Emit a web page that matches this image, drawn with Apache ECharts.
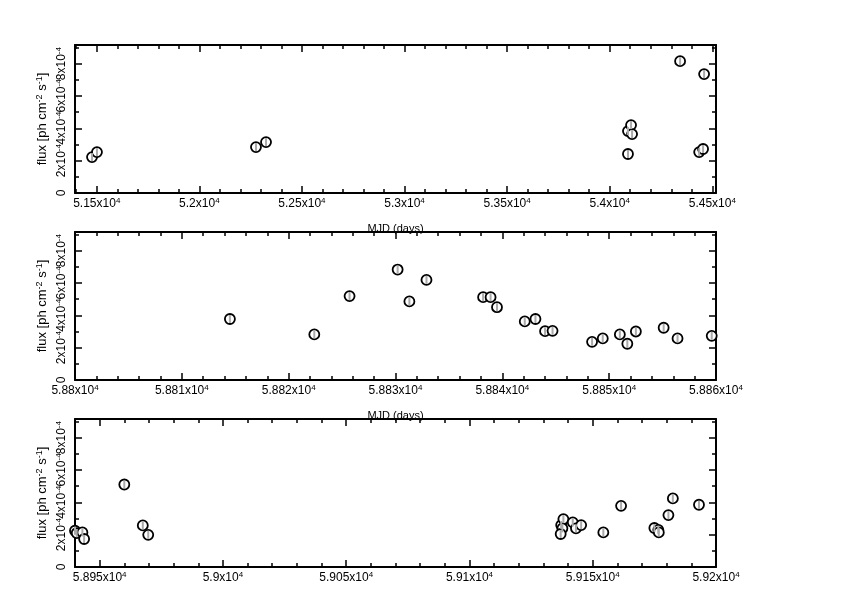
<!DOCTYPE html>
<html><head><meta charset="utf-8">
<script src="https://cdn.jsdelivr.net/npm/echarts@6/dist/echarts.min.js"></script>
<style>html,body{margin:0;padding:0;background:#fff}#c{width:842px;height:595px}</style>
</head><body><div id="c"></div><script>
// ---- data ----
const mjd1  = [51477, 51501, 52276, 52325, 54089, 54089, 54104, 54109, 54343, 54460, 54436, 54455];
const flux1 = [2.22e-4, 2.53e-4, 2.84e-4, 3.15e-4, 2.41e-4, 3.83e-4, 4.20e-4, 3.64e-4, 8.15e-4, 7.35e-4, 2.53e-4, 2.72e-4];

const mjd2  = [58814.5, 58822.4, 58825.7, 58830.2, 58831.3, 58832.9, 58838.2, 58838.9, 58839.5, 58842.1, 58843.1, 58844.0, 58844.7, 58848.4, 58849.4, 58851.0, 58851.7, 58852.5, 58855.1, 58856.4, 58859.6];
const flux2 = [3.77e-4, 2.82e-4, 5.19e-4, 6.83e-4, 4.86e-4, 6.19e-4, 5.12e-4, 5.12e-4, 4.50e-4, 3.62e-4, 3.77e-4, 3.02e-4, 3.04e-4, 2.36e-4, 2.57e-4, 2.82e-4, 2.24e-4, 3.00e-4, 3.23e-4, 2.57e-4, 2.73e-4];

const mjd3  = [58940.0, 58940.7, 58943.0, 58943.7, 58960.0, 58967.5, 58969.7, 59137.2, 59138.1, 59137.7, 59137.0, 59141.9, 59143.2, 59145.3, 59154.3, 59161.5, 59175.0, 59176.6, 59176.8, 59180.7, 59182.5, 59193.1];
const flux3 = [2.24e-4, 2.10e-4, 2.14e-4, 1.73e-4, 5.10e-4, 2.57e-4, 1.99e-4, 2.59e-4, 2.96e-4, 2.39e-4, 2.04e-4, 2.76e-4, 2.39e-4, 2.59e-4, 2.14e-4, 3.78e-4, 2.41e-4, 2.30e-4, 2.14e-4, 3.21e-4, 4.24e-4, 3.85e-4];

const xRange1 = [51394, 54518];
const xRange2 = [58800, 58860];
const xRange3 = [58940, 59200];
const xTicks1 = [51500, 52000, 52500, 53000, 53500, 54000, 54500];
const xTickLabels1 = ['5.15', '5.2', '5.25', '5.3', '5.35', '5.4', '5.45'];
const xTicks2 = [58800, 58810, 58820, 58830, 58840, 58850, 58860];
const xTickLabels2 = ['5.88', '5.881', '5.882', '5.883', '5.884', '5.885', '5.886'];
const xTicks3 = [58950, 59000, 59050, 59100, 59150, 59200];
const xTickLabels3 = ['5.895', '5.9', '5.905', '5.91', '5.915', '5.92'];
const xMinorStep = [100, 2, 10];

const yRange = [0, 9.15e-4];
const yTicks = [0, 2e-4, 4e-4, 6e-4, 8e-4];
const yTickLabels = ['0', '2', '4', '6', '8'];
const yMinor = [1e-4, 3e-4, 5e-4, 7e-4, 9e-4];

const xAxisTitle = 'MJD (days)';
const yAxisTitle = '{t|flux [ph cm}{ts|-2}{t| s}{ts|-1}{t|]}';

// ---- build ----
const panels = [
  {mjd: mjd1, flux: flux1, range: xRange1, ticks: xTicks1, labels: xTickLabels1, step: xMinorStep[0], title: xAxisTitle},
  {mjd: mjd2, flux: flux2, range: xRange2, ticks: xTicks2, labels: xTickLabels2, step: xMinorStep[1], title: xAxisTitle},
  {mjd: mjd3, flux: flux3, range: xRange3, ticks: xTicks3, labels: xTickLabels3, step: xMinorStep[2], title: ''}
];
const tops = [45, 232, 419];
const H = 148;
const FONT = 'Liberation Sans, Arial, sans-serif';
const rich = {
  b: {fontSize: 12, fontFamily: FONT, color: '#000', lineHeight: 14},
  s: {fontSize: 8, fontFamily: FONT, color: '#000', verticalAlign: 'top', lineHeight: 8, padding: [0, 0, 6, 0]},
  t: {fontSize: 13, fontFamily: FONT, color: '#000', lineHeight: 15},
  ts: {fontSize: 9, fontFamily: FONT, color: '#000', verticalAlign: 'top', lineHeight: 9, padding: [0, 0, 6, 0]}
};
const yFmt = v => { const k = yTicks.indexOf(v); if (k === 0) return '{b|0}'; return '{b|' + yTickLabels[k] + 'x10}{s|-4}'; };

const grid = [], xAxis = [], yAxis = [], series = [];
panels.forEach((p, i) => {
  grid.push({left: 75, width: 641, top: tops[i], height: H, containLabel: false});
  const minor = [];
  for (let v = Math.ceil(p.range[0] / p.step) * p.step; v <= p.range[1]; v += p.step) minor.push(v);
  const base = {type: 'value', gridIndex: i, min: p.range[0], max: p.range[1], splitLine: {show: false}};
  const xi = xAxis.length;
  xAxis.push(Object.assign({}, base, {
    position: 'bottom',
    name: p.title, nameLocation: 'middle', nameGap: 30, nameMoveOverlap: false,
    nameTextStyle: {fontSize: 11, fontFamily: FONT, color: '#000'},
    axisLine: {show: true, onZero: false, lineStyle: {color: '#000', width: 2}},
    axisTick: {show: true, inside: true, length: 7, customValues: p.ticks, lineStyle: {color: '#000', width: 1.5}},
    axisLabel: {show: true, margin: 4, interval: 0, hideOverlap: false, showMinLabel: true, showMaxLabel: true, customValues: p.ticks,
      formatter: v => { const k = p.ticks.indexOf(v); return '{b|' + (k >= 0 ? p.labels[k] : '') + 'x10}{s|4}'; },
      rich: rich}
  }));
  xAxis.push(Object.assign({}, base, {position: 'bottom', axisLine: {show: false, onZero: false},
    axisTick: {show: true, inside: true, length: 4, customValues: minor, lineStyle: {color: '#000', width: 1.5}},
    axisLabel: {show: false}}));
  xAxis.push(Object.assign({}, base, {position: 'top', axisLine: {show: true, onZero: false, lineStyle: {color: '#000', width: 2}},
    axisTick: {show: true, inside: true, length: 7, customValues: p.ticks, lineStyle: {color: '#000', width: 1.5}},
    axisLabel: {show: false}}));
  xAxis.push(Object.assign({}, base, {position: 'top', axisLine: {show: false, onZero: false},
    axisTick: {show: true, inside: true, length: 4, customValues: minor, lineStyle: {color: '#000', width: 1.5}},
    axisLabel: {show: false}}));

  const ybase = {type: 'value', gridIndex: i, min: yRange[0], max: yRange[1], splitLine: {show: false}};
  const yi = yAxis.length;
  yAxis.push(Object.assign({}, ybase, {
    position: 'left',
    name: yAxisTitle, nameLocation: 'middle', nameGap: 25, nameRotate: 90, nameMoveOverlap: false,
    nameTextStyle: {fontSize: 13, fontFamily: FONT, color: '#000', rich: rich},
    axisLine: {show: true, onZero: false, lineStyle: {color: '#000', width: 2}},
    axisTick: {show: true, inside: true, length: 7, customValues: yTicks, lineStyle: {color: '#000', width: 1.5}},
    axisLabel: {show: false}
  }));
  // tick labels split over two label-only axes so none is dropped for overlapping
  [[0, 2, 4], [1, 3]].forEach(set => {
    const vals = set.map(k => yTicks[k]);
    yAxis.push(Object.assign({}, ybase, {position: 'left', axisLine: {show: false, onZero: false}, axisTick: {show: false},
      axisLabel: {show: true, rotate: 90, margin: 6, interval: 0, hideOverlap: false, showMinLabel: true, showMaxLabel: true,
        customValues: vals, formatter: yFmt, rich: rich}}));
  });
  yAxis.push(Object.assign({}, ybase, {position: 'left', axisLine: {show: false, onZero: false},
    axisTick: {show: true, inside: true, length: 4, customValues: yMinor, lineStyle: {color: '#000', width: 1.5}},
    axisLabel: {show: false}}));
  yAxis.push(Object.assign({}, ybase, {position: 'right', axisLine: {show: true, onZero: false, lineStyle: {color: '#000', width: 2}},
    axisTick: {show: true, inside: true, length: 7, customValues: yTicks, lineStyle: {color: '#000', width: 1.5}},
    axisLabel: {show: false}}));
  yAxis.push(Object.assign({}, ybase, {position: 'right', axisLine: {show: false, onZero: false},
    axisTick: {show: true, inside: true, length: 4, customValues: yMinor, lineStyle: {color: '#000', width: 1.5}},
    axisLabel: {show: false}}));

  const pts = p.mjd.map((m, k) => [m, p.flux[k]]);
  series.push({type: 'scatter', xAxisIndex: xi, yAxisIndex: yi, data: pts, symbol: 'circle', symbolSize: 10,
    itemStyle: {color: '#fff', borderColor: '#000', borderWidth: 1.8, opacity: 1}, z: 3, silent: true});
  series.push({type: 'scatter', xAxisIndex: xi, yAxisIndex: yi, data: pts, symbol: 'rect', symbolSize: [2, 8],
    itemStyle: {color: '#aaa', opacity: 1}, z: 4, silent: true});
});

const chart = echarts.init(document.getElementById('c'), null, {renderer: 'canvas'});
chart.setOption({backgroundColor: '#fff', animation: false, grid, xAxis, yAxis, series});
</script></body></html>
